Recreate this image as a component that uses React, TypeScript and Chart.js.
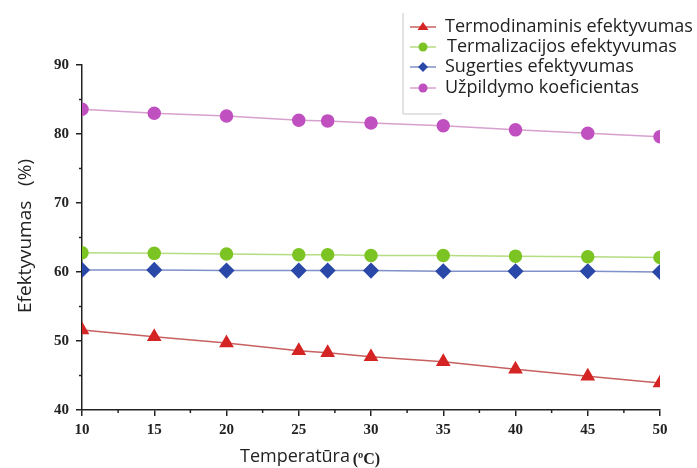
import React, { useEffect, useRef } from "react";
import { Chart, registerables } from "chart.js";

Chart.register(...registerables);

const temperatures = [10, 15, 20, 25, 27, 30, 35, 40, 45, 50];
const termodinaminis = [51.6, 50.6, 49.7, 48.6, 48.3, 47.7, 47.0, 45.9, 44.9, 43.9];
const termalizacijos = [62.8, 62.7, 62.6, 62.5, 62.5, 62.4, 62.4, 62.3, 62.2, 62.1];
const sugerties = [60.3, 60.3, 60.2, 60.2, 60.2, 60.2, 60.1, 60.1, 60.1, 60.0];
const uzpildymo = [83.6, 83.0, 82.6, 82.0, 81.9, 81.6, 81.2, 80.6, 80.1, 79.6];

const seriesLabels = [
  "Termodinaminis efektyvumas",
  "Termalizacijos efektyvumas",
  "Sugerties efektyvumas",
  "Užpildymo koeficientas",
];
const xTitle = "Temperatūra";
const xUnit = "(ºC)";
const yTitle = "Efektyvumas   (%)";

const toXY = (vals: number[]) => vals.map((v, i) => ({ x: temperatures[i], y: v }));

const clipPlugin = {
  id: "areaClip",
  beforeDatasetsDraw(chart: any) {
    const { left, right, top, bottom } = chart.chartArea;
    chart.ctx.save();
    chart.ctx.beginPath();
    chart.ctx.rect(left, top - 10, right - left, bottom - top + 10);
    chart.ctx.clip();
  },
  afterDatasetsDraw(chart: any) {
    chart.ctx.restore();
  },
};

const customPlugin = {
  id: "custom",
  afterDraw(chart: any) {
    const ctx = chart.ctx;
    const { left, bottom } = chart.chartArea;
    const xs = chart.scales.x;
    const ys = chart.scales.y;
    ctx.save();
    // minor ticks
    ctx.strokeStyle = "#222";
    ctx.lineWidth = 1.5;
    for (let v = 12.5; v < 50; v += 5) {
      const px = xs.getPixelForValue(v);
      ctx.beginPath();
      ctx.moveTo(px, bottom);
      ctx.lineTo(px, bottom + 3);
      ctx.stroke();
    }
    for (let v = 45; v < 90; v += 10) {
      const py = ys.getPixelForValue(v);
      ctx.beginPath();
      ctx.moveTo(left, py);
      ctx.lineTo(left - 3, py);
      ctx.stroke();
    }
    // axis titles
    ctx.fillStyle = "#222";
    ctx.font = "19px 'Open Sans'";
    ctx.textBaseline = "middle";
    ctx.textAlign = "center";
    ctx.save();
    ctx.translate(26, 236);
    ctx.rotate(-Math.PI / 2);
    ctx.fillText(yTitle, 0, 0);
    ctx.restore();
    ctx.textAlign = "left";
    ctx.font = "18px 'Open Sans'";
    const w1 = ctx.measureText(xTitle + " ").width;
    const startX = 240;
    ctx.fillText(xTitle, startX, 457);
    ctx.font = "bold 16px 'Liberation Serif'";
    ctx.fillText(xUnit, startX + w1 - 2, 460);

    // legend
    ctx.strokeStyle = "#c8c8c8";
    ctx.lineWidth = 1;
    ctx.beginPath();
    ctx.moveTo(403, 13);
    ctx.lineTo(403, 114);
    ctx.lineTo(442, 114);
    ctx.stroke();
    const rows = [27, 47, 67, 88];
    const textX = [445, 447, 445, 445];
    chart.data.datasets.forEach((ds: any, i: number) => {
      const y = rows[i];
      ctx.strokeStyle = ds.borderColor;
      ctx.lineWidth = 1.5;
      ctx.beginPath();
      ctx.moveTo(410, y);
      ctx.lineTo(436, y);
      ctx.stroke();
      ctx.fillStyle = ds.pointBackgroundColor;
      const r = 5;
      const cx = 423;
      ctx.beginPath();
      if (ds.pointStyle === "triangle") {
        ctx.moveTo(cx, y - r);
        ctx.lineTo(cx + r * 1.1, y + r * 0.6);
        ctx.lineTo(cx - r * 1.1, y + r * 0.6);
        ctx.closePath();
      } else if (ds.pointStyle === "rectRot") {
        ctx.moveTo(cx, y - r);
        ctx.lineTo(cx + r, y);
        ctx.lineTo(cx, y + r);
        ctx.lineTo(cx - r, y);
        ctx.closePath();
      } else {
        ctx.arc(cx, y, r - 0.5, 0, Math.PI * 2);
      }
      ctx.fill();
      ctx.fillStyle = "#222";
      ctx.font = "18px 'Open Sans'";
      ctx.textAlign = "left";
      ctx.textBaseline = "middle";
      ctx.fillText(ds.label, textX[i], y);
    });
    ctx.restore();
  },
};

export default function App() {
  const ref = useRef<HTMLCanvasElement | null>(null);
  useEffect(() => {
    if (!ref.current) return;
    const mk = (label: string, data: number[], line: string, fill: string, style: string, radius: number) => ({
      label,
      data: toXY(data),
      borderColor: line,
      backgroundColor: fill,
      pointBackgroundColor: fill,
      pointBorderColor: fill,
      pointStyle: style,
      pointRadius: radius,
      borderWidth: 1.5,
      tension: 0,
    });
    const chart = new Chart(ref.current, {
      type: "line",
      data: {
        datasets: [
          mk(seriesLabels[0], termodinaminis, "#c86060", "#d42424", "triangle", 7),
          mk(seriesLabels[1], termalizacijos, "#b4dc80", "#7cc423", "circle", 6),
          mk(seriesLabels[2], sugerties, "#8090c8", "#2a48a8", "rectRot", 7),
          mk(seriesLabels[3], uzpildymo, "#d8a0cc", "#c050c0", "circle", 6),
        ] as any,
      },
      options: {
        animation: false,
        responsive: false,
        devicePixelRatio: 1,
        layout: { padding: { top: 65, right: 37, left: 0, bottom: 0 } },
        plugins: { legend: { display: false }, tooltip: { enabled: false } },
        scales: {
          x: {
            type: "linear",
            min: 10,
            max: 50,
            afterFit: (s: any) => { s.height = 58; },
            ticks: {
              stepSize: 5,
              color: "#222",
              font: { family: "'Liberation Serif'", weight: "bold", size: 15 },
              padding: 5,
              maxRotation: 0,
            },
            grid: { drawOnChartArea: false, tickLength: 6, color: "#222", lineWidth: 1.5 },
            border: { display: true, color: "#222", width: 1.5 },
          },
          y: {
            min: 40,
            max: 90,
            afterFit: (s: any) => { s.width = 82; },
            ticks: {
              stepSize: 10,
              color: "#222",
              font: { family: "'Liberation Serif'", weight: "bold", size: 15 },
              padding: 7,
            },
            grid: { drawOnChartArea: false, tickLength: 6, color: "#222", lineWidth: 1.5 },
            border: { display: true, color: "#222", width: 1.5 },
          },
        },
      } as any,
      plugins: [clipPlugin, customPlugin],
    });
    return () => chart.destroy();
  }, []);
  return (
    <div style={{ position: "fixed", left: 0, top: 0, width: 697, height: 468, background: "#fff" }}>
      <canvas ref={ref} width={697} height={468} style={{ width: 697, height: 468 }} />
    </div>
  );
}
